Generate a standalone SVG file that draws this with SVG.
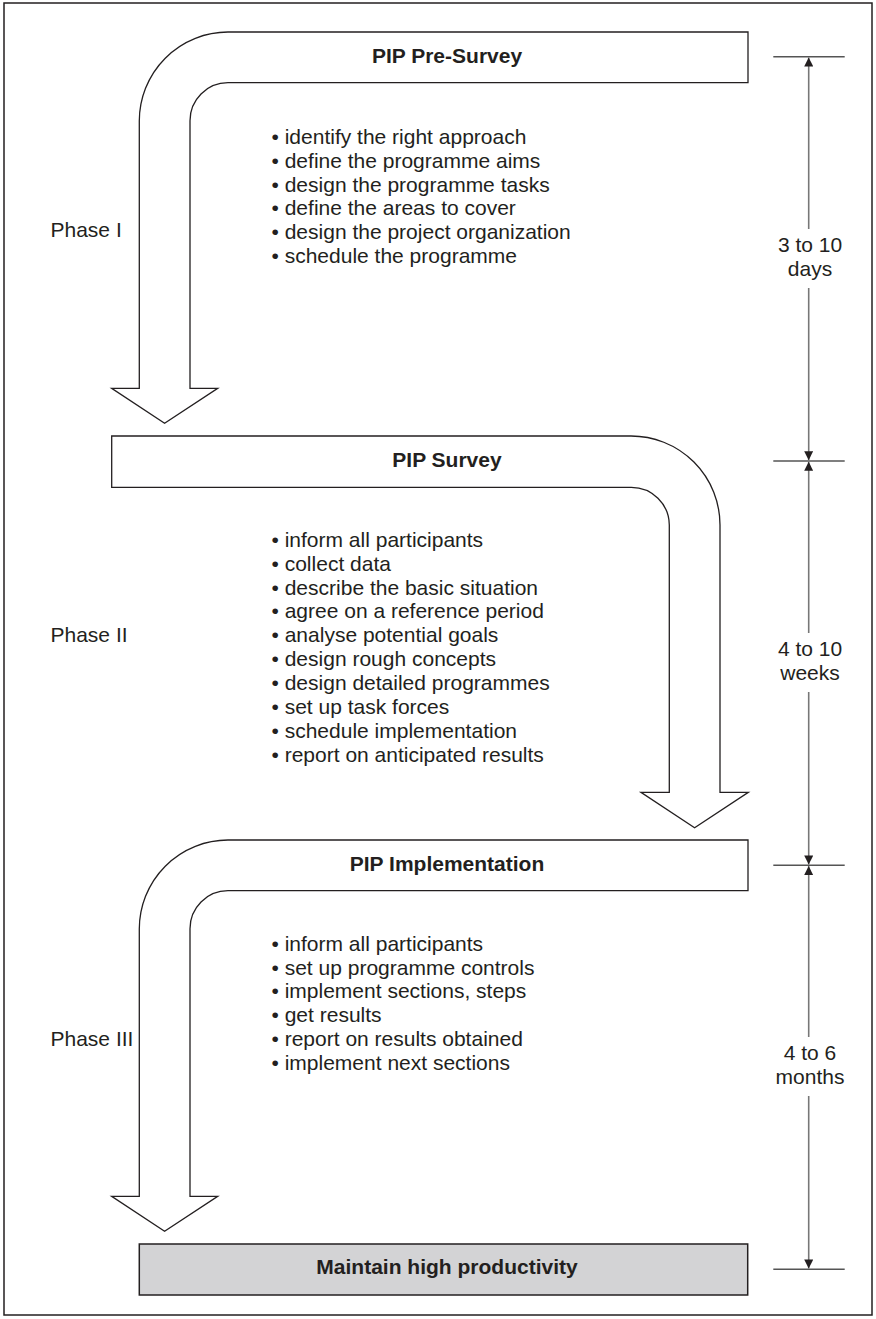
<svg xmlns="http://www.w3.org/2000/svg" width="876" height="1319" viewBox="0 0 876 1319">
<style>
.frame{fill:#fff;stroke:#231f20;stroke-width:1.5}
.arrow{fill:#fff;stroke:#231f20;stroke-width:1.3;stroke-linejoin:miter}
.box{fill:#d3d3d5;stroke:#231f20;stroke-width:1.5}
.t{font-family:"Liberation Sans",Arial,sans-serif;font-size:21px;fill:#231f20}
.b{font-weight:bold}
.m{text-anchor:middle}
.dim{stroke:#777;stroke-width:1.6;fill:none}
.tick{stroke:#555;stroke-width:1.4}
</style>
<defs>
<marker id="ah" viewBox="0 0 10 10" refX="10" refY="5" markerWidth="10.5" markerHeight="9" markerUnits="userSpaceOnUse" orient="auto">
<path d="M0,0 L10,5 L0,10 Z" fill="#231f20"/>
</marker>
</defs>
<rect class="frame" x="4" y="3" width="868" height="1312"/>

<g id="phase1">
<path class="arrow" d="M748 32 H228 A89 89 0 0 0 139.3 121 V388.3 H111.7 L164.6 423.3 L217.7 388.3 H190 V121 A38 38 0 0 1 228 82.7 H748 Z"/>
<text class="t b m" x="447" y="62.5">PIP Pre-Survey</text>
<text class="t" x="271.5" y="144.3">• identify the right approach</text>
<text class="t" x="271.5" y="168">• define the programme aims</text>
<text class="t" x="271.5" y="191.7">• design the programme tasks</text>
<text class="t" x="271.5" y="215.4">• define the areas to cover</text>
<text class="t" x="271.5" y="239.1">• design the project organization</text>
<text class="t" x="271.5" y="262.8">• schedule the programme</text>
<text class="t" x="50.5" y="237.3">Phase I</text>
</g>

<g id="phase2">
<path class="arrow" d="M111.7 436 H631 A89 89 0 0 1 720 525 V792.3 H748.3 L694.6 827.7 L641 792.3 H669.3 V525 A38 38 0 0 0 631 487.3 H111.7 Z"/>
<text class="t b m" x="447" y="466.5">PIP Survey</text>
<text class="t" x="271.5" y="546.7">• inform all participants</text>
<text class="t" x="271.5" y="570.6">• collect data</text>
<text class="t" x="271.5" y="594.5">• describe the basic situation</text>
<text class="t" x="271.5" y="618.4">• agree on a reference period</text>
<text class="t" x="271.5" y="642.3">• analyse potential goals</text>
<text class="t" x="271.5" y="666.2">• design rough concepts</text>
<text class="t" x="271.5" y="690.1">• design detailed programmes</text>
<text class="t" x="271.5" y="714">• set up task forces</text>
<text class="t" x="271.5" y="737.9">• schedule implementation</text>
<text class="t" x="271.5" y="761.8">• report on anticipated results</text>
<text class="t" x="50.5" y="641.5">Phase II</text>
</g>

<g id="phase3">
<path class="arrow" d="M748 840 H228 A89 89 0 0 0 139.3 929 V1196.3 H111.7 L164.6 1231.3 L217.7 1196.3 H190 V929 A38 38 0 0 1 228 890.7 H748 Z"/>
<text class="t b m" x="447" y="870.7">PIP Implementation</text>
<text class="t" x="271.5" y="951">• inform all participants</text>
<text class="t" x="271.5" y="974.7">• set up programme controls</text>
<text class="t" x="271.5" y="998.4">• implement sections, steps</text>
<text class="t" x="271.5" y="1022.1">• get results</text>
<text class="t" x="271.5" y="1045.8">• report on results obtained</text>
<text class="t" x="271.5" y="1069.5">• implement next sections</text>
<text class="t" x="50.5" y="1045.5">Phase III</text>
</g>

<g id="goal">
<rect class="box" x="139.3" y="1244" width="608.4" height="51"/>
<text class="t b m" x="447" y="1274">Maintain high productivity</text>
</g>

<g id="durations">
<line class="tick" x1="773.3" y1="56.7" x2="844.7" y2="56.7"/>
<line class="tick" x1="773.3" y1="461" x2="844.7" y2="461"/>
<line class="tick" x1="773.3" y1="865.3" x2="844.7" y2="865.3"/>
<line class="tick" x1="773.3" y1="1269.3" x2="844.7" y2="1269.3"/>
<text class="t m" x="810" y="251.7">3 to 10</text>
<text class="t m" x="810" y="275.7">days</text>
<text class="t m" x="810" y="655.9">4 to 10</text>
<text class="t m" x="810" y="679.9">weeks</text>
<text class="t m" x="810" y="1059.9">4 to 6</text>
<text class="t m" x="810" y="1083.9">months</text>
</g>

<g id="connectors">
<line class="dim" x1="808.7" y1="229" x2="808.7" y2="57.5" marker-end="url(#ah)"/>
<line class="dim" x1="808.7" y1="288" x2="808.7" y2="460.2" marker-end="url(#ah)"/>
<line class="dim" x1="808.7" y1="633" x2="808.7" y2="461.8" marker-end="url(#ah)"/>
<line class="dim" x1="808.7" y1="692" x2="808.7" y2="864.5" marker-end="url(#ah)"/>
<line class="dim" x1="808.7" y1="1037" x2="808.7" y2="866.1" marker-end="url(#ah)"/>
<line class="dim" x1="808.7" y1="1096" x2="808.7" y2="1268.5" marker-end="url(#ah)"/>
</g>
</svg>
